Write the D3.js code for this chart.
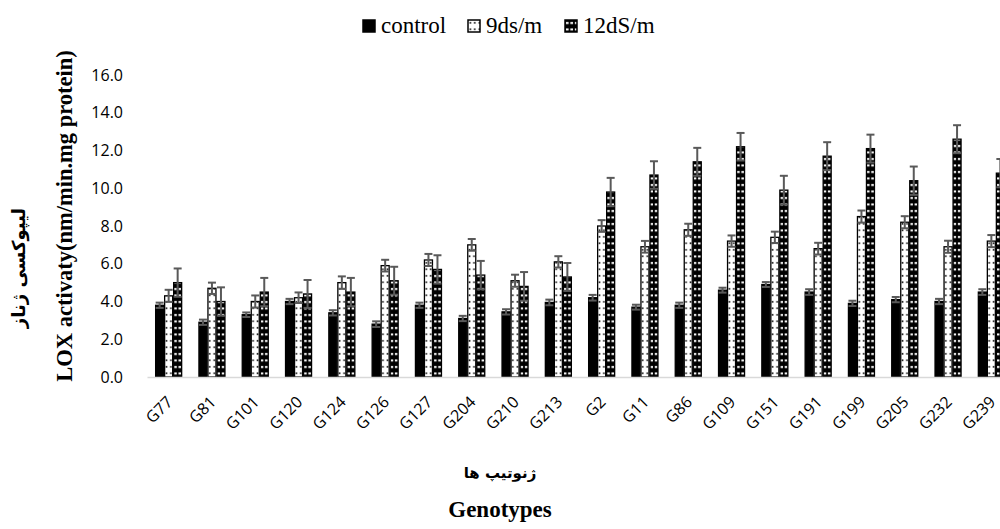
<!DOCTYPE html>
<html lang="en">

<head>
    <meta charset="UTF-8">
    <title>LOX activity</title>
    <style>
        body { margin: 0; background: #fff; }
        .axis text { font-family: "Open Sans", "Liberation Sans", sans-serif; font-size: 16px; fill: #000; }
        .title { font-family: "Liberation Serif", serif; font-weight: bold; fill: #000; }
        .legtext { font-family: "Liberation Serif", serif; font-weight: normal; fill: #000; }
        .fa { font-family: "DejaVu Sans", sans-serif; font-weight: bold; fill: #000; }
    </style>
</head>

<body>
    <script src="https://d3js.org/d3.v7.min.js"></script>
    <script>
        var width = 1000;
        var height = 529;

        // data
        var genotypes = ['G77', 'G81', 'G101', 'G120', 'G124', 'G126', 'G127', 'G204', 'G210', 'G213',
            'G2', 'G11', 'G86', 'G109', 'G151', 'G191', 'G199', 'G205', 'G232', 'G239'];
        var series = ['control', '9ds/m', '12dS/m'];
        var control = [3.8, 2.9, 3.3, 4.0, 3.4, 2.8, 3.8, 3.1, 3.45, 3.95, 4.2, 3.7, 3.8, 4.6, 4.9, 4.5, 3.9, 4.1, 4.0, 4.5];
        var ds9 = [4.3, 4.7, 4.0, 4.2, 5.0, 5.9, 6.2, 7.0, 5.1, 6.1, 8.0, 6.9, 7.8, 7.2, 7.4, 6.8, 8.5, 8.2, 6.9, 7.2];
        var ds12 = [5.0, 4.0, 4.5, 4.4, 4.5, 5.1, 5.7, 5.4, 4.8, 5.3, 9.8, 10.7, 11.4, 12.2, 9.9, 11.7, 12.1, 10.4, 12.6, 10.8];
        var errControl = [0.14, 0.14, 0.12, 0.14, 0.14, 0.15, 0.14, 0.14, 0.14, 0.15, 0.15, 0.13, 0.14, 0.13, 0.13, 0.15, 0.14, 0.14, 0.14, 0.15];
        var errDs9 = [0.32, 0.3, 0.32, 0.28, 0.33, 0.31, 0.32, 0.31, 0.32, 0.3, 0.31, 0.31, 0.32, 0.3, 0.3, 0.31, 0.32, 0.32, 0.32, 0.32];
        var errDs12 = [0.75, 0.75, 0.75, 0.74, 0.75, 0.74, 0.75, 0.75, 0.76, 0.74, 0.75, 0.73, 0.74, 0.73, 0.76, 0.74, 0.74, 0.75, 0.74, 0.75];
        var yTicks = [0, 2, 4, 6, 8, 10, 12, 14, 16];

        var values = [control, ds9, ds12];
        var errs = [errControl, errDs9, errDs12];

        var svg = d3.select('body').append('svg').attr('width', width).attr('height', height);

        // fill patterns
        var defs = svg.append('defs');
        var p1 = defs.append('pattern').attr('id', 'dots').attr('patternUnits', 'userSpaceOnUse')
            .attr('width', 4.5).attr('height', 6.5);
        p1.append('rect').attr('width', 4.5).attr('height', 6.5).attr('fill', '#fff');
        p1.append('rect').attr('x', 1.5).attr('y', 2).attr('width', 1.6).attr('height', 1.6).attr('fill', '#000');
        var p2 = defs.append('pattern').attr('id', 'dash').attr('patternUnits', 'userSpaceOnUse')
            .attr('width', 4.5).attr('height', 6.5);
        p2.append('rect').attr('width', 4.5).attr('height', 6.5).attr('fill', '#000');
        p2.append('rect').attr('x', 0.8).attr('y', 2).attr('width', 2.8).attr('height', 2).attr('fill', '#fff');
        var fills = ['#000', 'url(#dots)', 'url(#dash)'];

        var x0 = d3.scaleBand().domain(genotypes).range([147, 1013]).paddingInner(0.376).paddingOuter(0.188);
        var x1 = d3.scaleBand().domain(d3.range(series.length)).range([0, x0.bandwidth()]);
        var y = d3.scaleLinear().domain([0, 16]).range([377, 75]);

        // y axis (labels only)
        var yAxis = svg.append('g').attr('class', 'axis').attr('transform', 'translate(127,0)')
            .call(d3.axisLeft(y).tickValues(yTicks).tickFormat(d3.format('.1f')).tickSize(0).tickPadding(4));
        yAxis.select('.domain').remove();

        // bars
        var groups = svg.selectAll('.grp').data(genotypes).enter().append('g')
            .attr('class', 'grp')
            .attr('transform', function (d) { return 'translate(' + x0(d) + ',0)'; });

        series.forEach(function (s, si) {
            groups.append('rect')
                .attr('x', x1(si) + 0.5)
                .attr('y', function (d, i) { return y(values[si][i]); })
                .attr('width', x1.bandwidth() - 1)
                .attr('height', function (d, i) { return y(0) - y(values[si][i]); })
                .attr('fill', fills[si])
                .attr('stroke', '#000')
                .attr('stroke-width', 1.3);
        });

        // error bars
        series.forEach(function (s, si) {
            var cx = x1(si) + x1.bandwidth() / 2;
            var eb = groups.append('g').attr('stroke', '#595959').attr('stroke-width', 2);
            eb.append('line').attr('x1', cx).attr('x2', cx)
                .attr('y1', function (d, i) { return y(values[si][i] + errs[si][i]); })
                .attr('y2', function (d, i) { return y(values[si][i] - errs[si][i]); });
            [1, -1].forEach(function (sg) {
                eb.append('line').attr('x1', cx - 4).attr('x2', cx + 4)
                    .attr('y1', function (d, i) { return y(values[si][i] + sg * errs[si][i]); })
                    .attr('y2', function (d, i) { return y(values[si][i] + sg * errs[si][i]); });
            });
        });

        // x axis
        var xAxis = svg.append('g').attr('class', 'axis').attr('transform', 'translate(0,377)')
            .call(d3.axisBottom(x0).tickSize(0).tickPadding(0));
        xAxis.select('.domain').attr('stroke', '#d9d9d9').attr('stroke-width', 1.5);
        xAxis.selectAll('text')
            .attr('text-anchor', 'end')
            .attr('font-size', 15.5)
            .attr('y', 0)
            .attr('dy', 0)
            .attr('transform', 'translate(5,26) rotate(-45)');

        // axis titles
        svg.append('text').attr('class', 'title').attr('font-size', 22.5)
            .attr('text-anchor', 'middle')
            .attr('transform', 'translate(72,216) rotate(-90)')
            .text('LOX activaty(nm/min.mg protein)');
        svg.append('text').attr('class', 'fa').attr('font-size', 18)
            .attr('text-anchor', 'middle').attr('direction', 'rtl')
            .attr('transform', 'translate(25,268) rotate(-90)')
            .text('لیپوکسی ژناز');
        svg.append('text').attr('class', 'fa').attr('font-size', 15)
            .attr('text-anchor', 'middle').attr('direction', 'rtl')
            .attr('x', 500).attr('y', 478)
            .text('ژنوتیپ ها');
        svg.append('text').attr('class', 'title').attr('font-size', 23)
            .attr('text-anchor', 'middle')
            .attr('x', 500).attr('y', 517)
            .text('Genotypes');

        // legend
        var legendX = [363, 468, 565];
        var leg = svg.selectAll('.leg').data(series).enter().append('g')
            .attr('transform', function (d, i) { return 'translate(' + legendX[i] + ',20)'; });
        leg.append('rect').attr('width', 12).attr('height', 12)
            .attr('fill', function (d, i) { return fills[i]; })
            .attr('stroke', '#000').attr('stroke-width', 1.5);
        leg.append('text').attr('class', 'legtext')
            .attr('font-size', 23).attr('x', 18).attr('y', 13)
            .text(function (d) { return d; });
    </script>
</body>

</html>
